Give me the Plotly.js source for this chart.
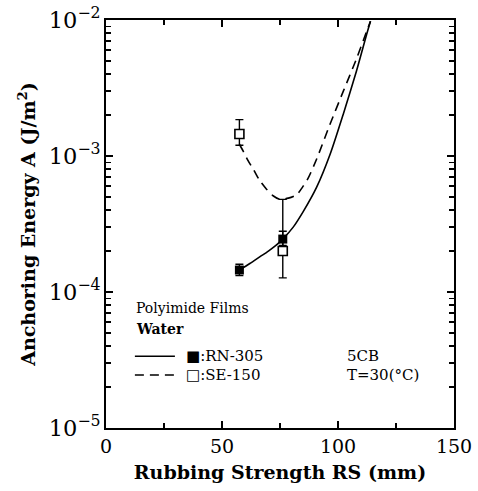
<!DOCTYPE html>
<html><head><meta charset="utf-8">
<script src="https://cdn.plot.ly/plotly-3.0.1.min.js"></script>
<style>body{margin:0;background:#fff}#c{width:478px;height:491px}</style>
</head><body><div id="c"></div>
<script>
// Measured points
const rnX = [57.5, 76.2];
const rnY = [1.45e-4, 2.45e-4];
const rnErrPlus = [1.5e-5, 3.5e-5];
const rnErrMinus = [1.3e-5, 2.5e-5];
const seX = [57.5, 76.2];
const seY = [1.45e-3, 2.0e-4];
const seErrPlus = [0.4e-3, 2.8e-4];
const seErrMinus = [0.25e-3, 0.73e-4];
// Fitted curves
const rnCurveX = [57.5, 62, 66.4, 70, 73.5, 76.2, 80.7, 85, 90.8, 96.6, 102.3, 108, 112.3, 114];
const rnCurveY = [1.45e-4, 1.62e-4, 1.82e-4, 2.0e-4, 2.22e-4, 2.45e-4, 3.0e-4, 3.9e-4, 5.9e-4, 1.03e-3, 2.04e-3, 4.24e-3, 7.8e-3, 9.8e-3];
const seCurveX = [57.5, 59.2, 61.3, 63.5, 66, 69.2, 72, 75, 78.6, 82.2, 85, 87.2, 90.8, 96.6, 102.3, 108, 112.3, 114];
const seCurveY = [1.22e-3, 1.08e-3, 9.2e-4, 8.0e-4, 6.7e-4, 5.7e-4, 5.1e-4, 4.8e-4, 4.9e-4, 5.2e-4, 6.0e-4, 6.9e-4, 9.5e-4, 1.72e-3, 3.0e-3, 5.2e-3, 8.2e-3, 9.8e-3];

const serif = "DejaVu Serif, Liberation Serif, serif";
const traces = [
  {x: rnCurveX, y: rnCurveY, mode: 'lines', line: {color: '#000', width: 1.6, shape: 'spline', smoothing: 0.7}, hoverinfo: 'skip'},
  {x: seCurveX, y: seCurveY, mode: 'lines', line: {color: '#000', width: 1.6, dash: '9px,6px', shape: 'spline', smoothing: 0.7}, hoverinfo: 'skip'},
  {x: rnX, y: rnY, mode: 'markers', marker: {symbol: 'square', size: 9, color: '#000'},
   error_y: {type: 'data', array: rnErrPlus, arrayminus: rnErrMinus, color: '#000', thickness: 1.4, width: 4}},
  {x: seX, y: seY, mode: 'markers', marker: {symbol: 'square', size: 9, color: '#fff', line: {color: '#000', width: 1.6}},
   error_y: {type: 'data', array: seErrPlus, arrayminus: seErrMinus, color: '#000', thickness: 1.4, width: 4}}
];
const layout = {
  width: 478, height: 491,
  margin: {l: 106, r: 24, t: 20, b: 63},
  paper_bgcolor: '#fff', plot_bgcolor: '#fff',
  showlegend: false,
  font: {family: serif, color: '#000'},
  xaxis: {
    range: [0, 150], tickvals: [0, 50, 100, 150], ticks: 'inside', ticklen: 7, tickwidth: 1.5, tickcolor: '#000',
    showline: true, linecolor: '#000', linewidth: 1.8, mirror: 'ticks', showgrid: false, zeroline: false,
    tickfont: {size: 19, family: serif},
    minor: {tickvals: [25, 75, 125], ticks: 'inside', ticklen: 5, tickwidth: 1.4, tickcolor: '#000', showgrid: false},
    title: {text: 'Rubbing Strength RS (mm)', font: {size: 19, family: serif, weight: 'bold'}, standoff: 10}
  },
  yaxis: {
    type: 'log', range: [-5, -2], dtick: 1, exponentformat: 'power', ticks: 'inside', ticklen: 7, tickwidth: 1.5, tickcolor: '#000',
    showline: true, linecolor: '#000', linewidth: 1.8, mirror: 'ticks', showgrid: false, zeroline: false,
    tickfont: {size: 18, family: serif},
    minor: {dtick: 'D1', ticks: 'inside', ticklen: 5, tickwidth: 1.4, tickcolor: '#000', showgrid: false},
    title: {text: 'Anchoring Energy A (J/m<sup>2</sup>)', font: {size: 19, family: serif, weight: 'bold'}, standoff: 8}
  },
  shapes: [
    {type: 'line', xref: 'paper', yref: 'paper', x0: 0.083, x1: 0.198, y0: 0.176, y1: 0.176, line: {color: '#000', width: 1.4}},
    {type: 'line', xref: 'paper', yref: 'paper', x0: 0.083, x1: 0.198, y0: 0.130, y1: 0.130, line: {color: '#000', width: 1.4, dash: '9px,6px'}}
  ],
  annotations: [
    {xref: 'paper', yref: 'paper', x: 0.08, y: 0.294, xanchor: 'left', yanchor: 'middle', showarrow: false, text: 'Polyimide Films', font: {size: 14, family: serif}},
    {xref: 'paper', yref: 'paper', x: 0.08, y: 0.243, xanchor: 'left', yanchor: 'middle', showarrow: false, text: '<b>Water</b>', font: {size: 14, family: serif}},
    {xref: 'paper', yref: 'paper', x: 0.225, y: 0.176, xanchor: 'left', yanchor: 'middle', showarrow: false, text: '■:RN-305', font: {size: 15, family: serif}},
    {xref: 'paper', yref: 'paper', x: 0.225, y: 0.130, xanchor: 'left', yanchor: 'middle', showarrow: false, text: '□:SE-150', font: {size: 15, family: serif}},
    {xref: 'paper', yref: 'paper', x: 0.687, y: 0.176, xanchor: 'left', yanchor: 'middle', showarrow: false, text: '5CB', font: {size: 15, family: serif}},
    {xref: 'paper', yref: 'paper', x: 0.687, y: 0.130, xanchor: 'left', yanchor: 'middle', showarrow: false, text: 'T=30(°C)', font: {size: 15, family: serif}}
  ]
};
Plotly.newPlot('c', traces, layout, {staticPlot: true, displayModeBar: false});
</script></body></html>
